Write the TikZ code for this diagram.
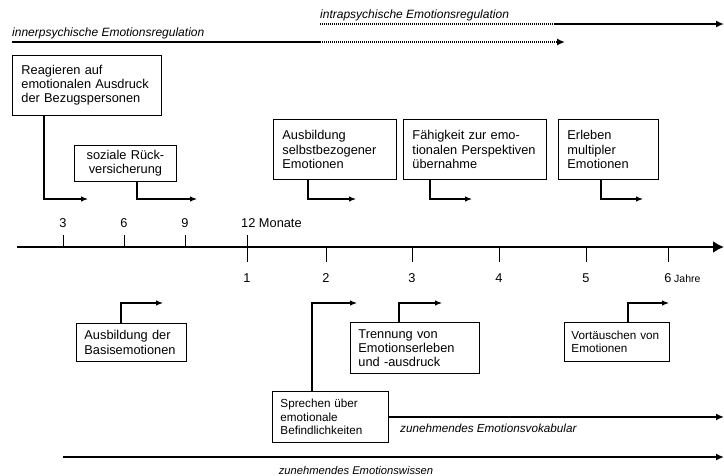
\documentclass[tikz,border=0pt]{standalone}
\usepackage{fontspec}
\setmainfont{Liberation Sans}
\usetikzlibrary{arrows.meta}
\hyphenpenalty=10000
\exhyphenpenalty=10000
\begin{document}
\begin{tikzpicture}[x=1pt,y=-1pt,
  evbox/.style={draw,line width=0.9pt,anchor=north west,inner xsep=9pt,inner ysep=0pt,
    align=left,font=\fontsize{12.8}{14.2}\selectfont},
  smallbox/.style={font=\fontsize{11.7}{13.6}\selectfont},
  conn/.style={line width=1.1pt,-{Latex[length=7pt,width=5.5pt]}},
  longline/.style={line width=1.6pt},
  longarrow/.style={line width=1.6pt,-{Latex[length=8pt,width=7pt]}},
  dots/.style={line width=1.6pt,dash pattern=on 1pt off 1pt},
  tick/.style={line width=0.9pt},
  ticklabel/.style={font=\fontsize{12.8}{14}\selectfont,inner sep=0pt},
  phase/.style={font=\fontsize{12}{14}\selectfont\itshape,inner sep=0pt,anchor=west},
]
\useasboundingbox (0,0) rectangle (724,475);

% regulation phases at the top
\node[phase] (intra) at (320,15) {intrapsychische Emotionsregulation};
\node[phase] (inner) at (12,33) {innerpsychische Emotionsregulation};
\coordinate (intraA) at (320,24);
\coordinate (intraB) at (554,24);
\coordinate (intraC) at (724,24);
\coordinate (innerA) at (12,42);
\coordinate (innerB) at (320,42);
\coordinate (innerC) at (565,42);
\draw[dots] (intraA) -- (intraB);
\draw[longarrow] (intraB) -- (intraC);
\draw[longline] (innerA) -- (innerB);
\draw[dots,-{Latex[length=8pt,width=7pt]}] (innerB) -- (innerC);

% time axis
\coordinate (tl0) at (17,247);
\coordinate (tl1) at (724,247);
\draw[line width=2.2pt,-{Latex[length=11pt,width=12pt]}] (tl0) -- (tl1);

% months above the axis
\foreach \x/\t in {63/3,124/6,185/9}{
  \draw[tick] (\x,235) -- (\x,247);
  \node[ticklabel] at (\x,223) {\t};
}
\draw[tick] (247,235) -- (247,262);
\node[ticklabel,anchor=west] (m12) at (241,223) {12 Monate};

% years below the axis
\foreach \x in {326,412,499,586,668}{
  \draw[tick] (\x,247) -- (\x,262);
}
\foreach \x/\t in {247/1,326/2,412/3,499/4,586/5}{
  \node[ticklabel] at (\x,278) {\t};
}
\node[ticklabel] (y6) at (668,278) {6};
\node[inner sep=0pt,anchor=west,font=\fontsize{10.5}{12}\selectfont] at (674,278.5) {Jahre};

% milestones above the axis
\node[evbox,text width=131pt,minimum height=60pt] (b1) at (12,55)
  {Reagieren auf\\emotionalen Ausdruck\\der Bezugspersonen};
\node[evbox,align=center,text width=84pt,minimum height=36pt] (b2) at (74,145)
  {soziale Rück-\\versicherung};
\node[evbox,text width=105pt,minimum height=60pt] (b3) at (273,119)
  {Ausbildung\\selbstbezogener\\Emotionen};
\node[evbox,text width=125pt,minimum height=60pt] (b4) at (403,119)
  {Fähigkeit zur emo-\\tionalen Perspektiven\\übernahme};
\node[evbox,text width=82pt,minimum height=60pt] (b5) at (558,119)
  {Erleben\\multipler\\Emotionen};

\coordinate (r1) at (88,199);
\coordinate (r2) at (197,199);
\coordinate (r3) at (356,199);
\coordinate (r4) at (472,199);
\coordinate (r5) at (643,199);
\draw[conn] ([xshift=32pt]b1.south west) |- (r1);
\draw[conn] ([xshift=63pt]b2.south west) |- (r2);
\draw[conn] ([xshift=35pt]b3.south west) |- (r3);
\draw[conn] ([xshift=27pt]b4.south west) |- (r4);
\draw[conn] ([xshift=43pt]b5.south west) |- (r5);

% milestones below the axis
\node[evbox,inner xsep=8pt,text width=94pt,minimum height=38pt] (c1) at (76,323)
  {Ausbildung der\\Basisemotionen};
\node[evbox,inner xsep=8pt,text width=113pt,minimum height=51pt] (c2) at (350,322)
  {Trennung von\\Emotionserleben\\und -ausdruck};
\node[evbox,smallbox,inner xsep=7pt,text width=91pt,minimum height=39pt] (c3) at (564,322)
  {Vortäuschen von\\Emotionen};
\node[evbox,smallbox,inner xsep=8pt,text width=100pt,minimum height=51pt] (c4) at (272,391)
  {Sprechen über\\emotionale\\Befindlichkeiten};

\coordinate (s1) at (163,303);
\coordinate (s2) at (442,303);
\coordinate (s3) at (669,303);
\coordinate (s4) at (357,303);
\draw[conn] ([xshift=45pt]c1.north west) |- (s1);
\draw[conn] ([xshift=49pt]c2.north west) |- (s2);
\draw[conn] ([xshift=64pt]c3.north west) |- (s3);
\draw[conn] ([xshift=40pt]c4.north west) |- (s4);

% growing vocabulary and knowledge
\coordinate (vok) at (724,416);
\draw[longarrow] (c4.east) -- (c4.east -| vok);
\node[phase,font=\fontsize{11.7}{14}\selectfont\itshape] (vokt) at (400,428) {zunehmendes Emotionsvokabular};
\coordinate (wA) at (63,457);
\coordinate (wB) at (724,457);
\draw[longarrow] (wA) -- (wB);
\node[phase,anchor=center,font=\fontsize{11.2}{14}\selectfont\itshape] (wt) at (356,470) {zunehmendes Emotionswissen};
\end{tikzpicture}
\end{document}
